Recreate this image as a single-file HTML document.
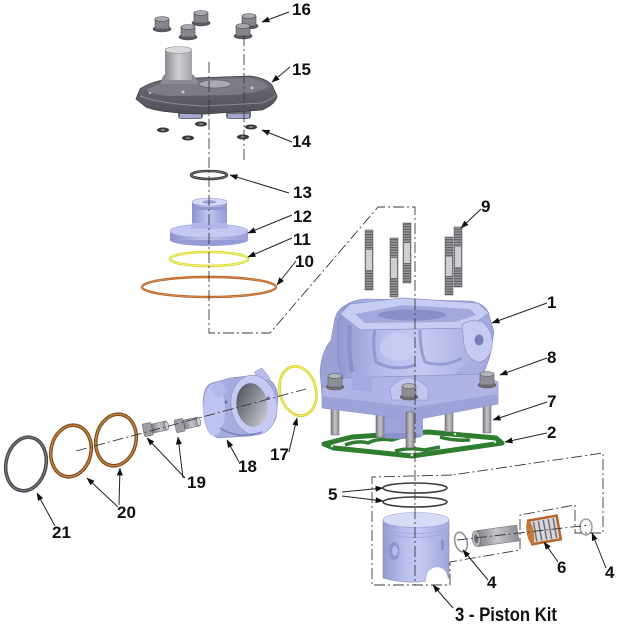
<!DOCTYPE html>
<html><head><meta charset="utf-8">
<style>
html,body{margin:0;padding:0;background:#fff;}
svg{display:block;}
text{font-family:"Liberation Sans",Arial,sans-serif;font-weight:bold;font-size:17px;fill:#111;}
</style></head><body>
<svg width="618" height="624" viewBox="0 0 618 624" xmlns="http://www.w3.org/2000/svg">
<defs>
<marker id="ah" markerWidth="8" markerHeight="6" refX="7.5" refY="3" orient="auto" markerUnits="userSpaceOnUse">
<path d="M0,0 L8,3 L0,6 z" fill="#111"/>
</marker>
<linearGradient id="lav" x1="0" x2="1" y1="0" y2="0">
<stop offset="0" stop-color="#8c92cf"/><stop offset="0.45" stop-color="#c2c6f0"/><stop offset="1" stop-color="#979dd6"/>
</linearGradient>
<linearGradient id="cylg" x1="0" x2="1">
<stop offset="0" stop-color="#9399d2"/><stop offset="0.3" stop-color="#b9bdec"/><stop offset="0.55" stop-color="#c6c9f1"/><stop offset="1" stop-color="#a0a5dc"/>
</linearGradient>
<linearGradient id="head" x1="0" x2="0" y1="0" y2="1">
<stop offset="0" stop-color="#6e6f78"/><stop offset="1" stop-color="#4f5058"/>
</linearGradient>
<linearGradient id="spig" x1="0" x2="1">
<stop offset="0" stop-color="#8a8a90"/><stop offset="0.5" stop-color="#cfcfd3"/><stop offset="1" stop-color="#a4a4aa"/>
</linearGradient>
<linearGradient id="hole" x1="0" x2="1" y1="0" y2="1">
<stop offset="0" stop-color="#44464f"/><stop offset="0.6" stop-color="#9a9ca6"/><stop offset="1" stop-color="#dadbe2"/>
</linearGradient>
<linearGradient id="gray" x1="0" x2="1">
<stop offset="0" stop-color="#7c7c84"/><stop offset="0.5" stop-color="#c4c4ca"/><stop offset="1" stop-color="#8e8e96"/>
</linearGradient>
<pattern id="thr" width="8" height="2.6" patternUnits="userSpaceOnUse">
<rect width="8" height="2.6" fill="#9a9a9e"/><rect width="8" height="1.1" fill="#5c5c60"/>
</pattern>
</defs>

<!-- ===== Head nuts 16 ===== -->
<g stroke="#4a4a50" stroke-width="0.6">
<g transform="translate(162,23)"><ellipse cx="0" cy="6" rx="9" ry="3" fill="#5a5a60"/><rect x="-7" y="-4" width="14" height="10" fill="#85858d"/><ellipse cx="0" cy="-4" rx="7" ry="2.5" fill="#a8a8b0"/></g>
<g transform="translate(201,17)"><ellipse cx="0" cy="6" rx="9" ry="3" fill="#5a5a60"/><rect x="-7" y="-4" width="14" height="10" fill="#85858d"/><ellipse cx="0" cy="-4" rx="7" ry="2.5" fill="#a8a8b0"/></g>
<g transform="translate(188,31)"><ellipse cx="0" cy="6" rx="9" ry="3" fill="#5a5a60"/><rect x="-7" y="-4" width="14" height="10" fill="#85858d"/><ellipse cx="0" cy="-4" rx="7" ry="2.5" fill="#a8a8b0"/></g>
<g transform="translate(249,20)"><ellipse cx="0" cy="6" rx="9" ry="3" fill="#5a5a60"/><rect x="-7" y="-4" width="14" height="10" fill="#85858d"/><ellipse cx="0" cy="-4" rx="7" ry="2.5" fill="#a8a8b0"/></g>
<g transform="translate(243,30)"><ellipse cx="0" cy="6" rx="9" ry="3" fill="#5a5a60"/><rect x="-7" y="-4" width="14" height="10" fill="#85858d"/><ellipse cx="0" cy="-4" rx="7" ry="2.5" fill="#a8a8b0"/></g>
</g>

<!-- ===== Head 15 ===== -->
<g>
<rect x="178" y="106" width="25" height="13" rx="3" fill="#6b6d7c"/>
<rect x="226" y="106" width="25" height="13" rx="3" fill="#6b6d7c"/>
<rect x="180" y="114" width="21" height="4" fill="#a3a7d0"/>
<rect x="228" y="114" width="21" height="4" fill="#a3a7d0"/>
<path d="M136,99 L140,89 Q150,82 168,79 L250,76 Q266,78 272,85 L277,96 Q276,104 262,110 L205,114 Q160,113 146,107 Z" fill="url(#head)" stroke="#3e3f45" stroke-width="0.8"/>
<path d="M146,90 Q160,83 172,81 L250,78 Q263,80 269,87 Q255,94 230,95 L170,96 Q152,95 146,90Z" fill="#7b7c85"/>
<path d="M140,96 Q160,104 205,106 L262,103 Q272,99 276,95" fill="none" stroke="#8a8b94" stroke-width="1"/>
<ellipse cx="215" cy="84" rx="16" ry="4" fill="#a9aab3" stroke="#55565e" stroke-width="0.6"/>
<path d="M160,84 Q163,74 166,74 L191,74 Q195,74 198,84 Z" fill="#8c8c93"/>
<rect x="165" y="50" width="27" height="30" fill="url(#spig)"/>
<ellipse cx="178.5" cy="50" rx="13.5" ry="3.5" fill="#d9d9dc" stroke="#8a8a90" stroke-width="0.6"/>
<circle cx="183" cy="92" r="1.5" fill="#ccc"/><circle cx="252" cy="88" r="1.5" fill="#ccc"/><circle cx="150" cy="93" r="1.2" fill="#bbb"/>
</g>

<!-- ===== Washers 14 ===== -->
<g fill="#36363a">
<ellipse cx="163" cy="130" rx="6" ry="2.5"/><ellipse cx="201" cy="124" rx="6" ry="2.5"/><ellipse cx="188" cy="138" rx="6" ry="2.5"/>
<ellipse cx="251" cy="127" rx="6" ry="2.5"/><ellipse cx="243" cy="137" rx="6" ry="2.5"/>
</g>
<g fill="#8a8a90">
<ellipse cx="163" cy="130" rx="2.5" ry="0.9"/><ellipse cx="201" cy="124" rx="2.5" ry="0.9"/><ellipse cx="188" cy="138" rx="2.5" ry="0.9"/>
<ellipse cx="251" cy="127" rx="2.5" ry="0.9"/><ellipse cx="243" cy="137" rx="2.5" ry="0.9"/>
</g>

<!-- ===== Ring 13 ===== -->
<ellipse cx="209" cy="175" rx="18" ry="4" fill="none" stroke="#333" stroke-width="2.6"/>
<ellipse cx="209" cy="175" rx="18" ry="4" fill="none" stroke="#8a8a8e" stroke-width="0.7"/>

<!-- ===== Part 12 ===== -->
<g>
<ellipse cx="209" cy="240" rx="39" ry="6" fill="#959bd6"/>
<rect x="170" y="231" width="78" height="9" fill="url(#lav)"/>
<ellipse cx="209" cy="231" rx="39" ry="7" fill="#c5c8f1" stroke="#9aa0d6" stroke-width="0.6"/>
<path d="M190,229 Q192,222 194,220 L225,220 Q227,222 229,229 Z" fill="#b2b6e8"/>
<rect x="192" y="202" width="35" height="21" fill="url(#lav)"/>
<rect x="192" y="207" width="35" height="3" fill="#9398d0"/>
<ellipse cx="209.5" cy="202" rx="17.5" ry="4" fill="#d7d9f6" stroke="#9ea3d8" stroke-width="0.6"/>
<ellipse cx="209.5" cy="202" rx="7" ry="1.8" fill="#9da2d6"/>
</g>

<!-- ===== Rings 11, 10 ===== -->
<ellipse cx="209" cy="259" rx="39" ry="7" fill="none" stroke="#d9d932" stroke-width="2.6"/>
<ellipse cx="209" cy="259" rx="39" ry="7" fill="none" stroke="#f4f48a" stroke-width="0.8"/>
<ellipse cx="209" cy="287" rx="67" ry="10" fill="none" stroke="#b9652b" stroke-width="2.4"/>
<ellipse cx="209" cy="287" rx="67" ry="10" fill="none" stroke="#e09a5e" stroke-width="0.6"/>

<!-- ===== Studs 9 ===== -->
<g stroke="#505054" stroke-width="0.5">
<rect x="365" y="230" width="8" height="60" fill="url(#thr)"/><rect x="366" y="250" width="6" height="20" fill="#cfcfd3" stroke="none"/>
<rect x="390" y="238" width="8" height="59" fill="url(#thr)"/><rect x="391" y="258" width="6" height="20" fill="#cfcfd3" stroke="none"/>
<rect x="403" y="223" width="8" height="60" fill="url(#thr)"/><rect x="404" y="243" width="6" height="20" fill="#cfcfd3" stroke="none"/>
<rect x="454" y="227" width="8" height="60" fill="url(#thr)"/><rect x="455" y="247" width="6" height="20" fill="#cfcfd3" stroke="none"/>
<rect x="445" y="237" width="8" height="58" fill="url(#thr)"/><rect x="446" y="257" width="6" height="19" fill="#cfcfd3" stroke="none"/>
</g>

<!-- ===== Gasket 2 ===== -->
<path d="M324,444 L352,437 L428,432 L496,438 L502,443 L412,456 L334,448 Z" fill="none" stroke="#2f7d2f" stroke-width="5" stroke-linejoin="round"/>
<path d="M345,445 Q358,440 368,443 Q376,438 392,440 L402,437 M440,437 Q452,441 470,440 M395,451 Q410,447 425,450 L440,447" fill="none" stroke="#2f7d2f" stroke-width="3.5"/>
<g fill="#cfe3cf"><circle cx="332" cy="446" r="1.3"/><circle cx="412" cy="455" r="1.3"/><circle cx="495" cy="442" r="1.3"/><circle cx="455" cy="434" r="1.3"/></g>

<!-- ===== Cylinder 1 ===== -->
<g>
<!-- lower skirt -->
<rect x="378" y="412" width="45" height="24" fill="#9ea3db"/>
<ellipse cx="400" cy="436" rx="22" ry="3" fill="#8c92cc"/>
<!-- studs 7 under -->
<g stroke="#5a5a60" stroke-width="0.5">
<rect x="331" y="408" width="8" height="27" fill="url(#gray)"/>
<rect x="376" y="412" width="8" height="25" fill="url(#gray)"/>
<rect x="445" y="412" width="8" height="20" fill="url(#gray)"/>
<rect x="483" y="405" width="8" height="28" fill="url(#gray)"/>
</g>
<!-- left bulge -->
<path d="M322,395 L320,372 Q321,352 331,340 L335,318 Q338,308 346,305 L352,385 Z" fill="#9ba0d6" stroke="#7b81bb" stroke-width="0.5"/>
<!-- barrel -->
<path d="M338,322 L346,305 Q352,300 365,299 L470,301 Q484,303 488,312 L494,332 L490,356 L482,378 L345,386 L338,360 Z" fill="url(#cylg)" stroke="#7e84bd" stroke-width="0.6"/>
<!-- barrel shading -->
<path d="M350,325 Q348,350 352,372" fill="none" stroke="#8a90c9" stroke-width="4"/>
<path d="M375,328 Q372,345 376,362 Q395,372 415,365" fill="none" stroke="#9298d0" stroke-width="3"/>
<path d="M420,330 Q420,350 425,362 Q445,368 462,358" fill="none" stroke="#979dd3" stroke-width="3"/>
<ellipse cx="398" cy="347" rx="18" ry="14" fill="#cfd2f4" opacity="0.6"/>
<!-- top face -->
<path d="M340,314 L350,304 L402,298 L478,303 L489,313 L468,328 L360,330 Z" fill="#c9ccf2" stroke="#8a90c8" stroke-width="0.7"/>
<path d="M355,314 L403,305 L470,309 L476,315 L455,322 L365,323 Z" fill="#a3a8dc"/>
<ellipse cx="412" cy="315" rx="34" ry="5.5" fill="#8a90c7"/>
<!-- exhaust ear -->
<path d="M462,325 Q470,318 482,322 Q494,330 492,348 Q488,362 478,362 Q466,358 464,345 Z" fill="#c8cbf1" stroke="#8a90c8" stroke-width="0.6"/>
<ellipse cx="479" cy="340" rx="4.5" ry="5.5" fill="#7a80b6"/>
<path d="M470,362 L482,378 L470,385 L455,372 Z" fill="#a9aee2"/>
<!-- lower body / flange -->
<path d="M322,388 L345,378 L482,374 L498,382 L498,404 L415,420 L322,408 Z" fill="#b1b5e6" stroke="#8186c0" stroke-width="0.6"/>
<path d="M322,396 L415,407 L498,394 L498,404 L415,420 L322,408 Z" fill="#9da2d9"/>
<path d="M390,388 Q408,368 428,388 L428,400 L392,400 Z" fill="#c3c6f0" stroke="#8e94cc" stroke-width="0.6"/>
<path d="M352,372 L372,376 L372,392 L352,390 Z" fill="#a5aae0"/>
<!-- front stud -->
<rect x="406" y="412" width="8" height="36" fill="url(#gray)" stroke="#5a5a60" stroke-width="0.5"/>
<!-- nuts 8 -->
<g stroke="#505056" stroke-width="0.5">
<g transform="translate(335,381)"><ellipse cx="0" cy="6" rx="9" ry="3" fill="#6e6e74"/><rect x="-7" y="-5" width="14" height="11" fill="#8d8d94"/><ellipse cx="0" cy="-5" rx="7" ry="2.5" fill="#b4b4ba"/></g>
<g transform="translate(409,391)"><ellipse cx="0" cy="6" rx="9" ry="3" fill="#6e6e74"/><rect x="-7" y="-5" width="14" height="11" fill="#8d8d94"/><ellipse cx="0" cy="-5" rx="7" ry="2.5" fill="#b4b4ba"/></g>
<g transform="translate(487,379)"><ellipse cx="0" cy="6" rx="9" ry="3" fill="#6e6e74"/><rect x="-7" y="-5" width="14" height="11" fill="#8d8d94"/><ellipse cx="0" cy="-5" rx="7" ry="2.5" fill="#b4b4ba"/></g>
</g>
</g>

<!-- ===== Ring 17 ===== -->
<ellipse cx="298" cy="391" rx="18" ry="25" transform="rotate(-14 298 391)" fill="none" stroke="#dcd535" stroke-width="2.8"/>
<ellipse cx="298" cy="391" rx="18" ry="25" transform="rotate(-14 298 391)" fill="none" stroke="#f5f08a" stroke-width="0.8"/>

<!-- ===== Intake 18 ===== -->
<g>
<path d="M212,383 Q203,386 203,405 Q203,432 218,438 L250,436 Q270,433 276,418 L278,395 Q275,378 258,375 L230,378 Z" fill="#a7acdf" stroke="#7a80b8" stroke-width="0.6"/>
<ellipse cx="214" cy="410" rx="11" ry="26" fill="#bfc3ef"/>
<path d="M254,372 L262,368 L270,378 L262,384 Z" fill="#b9bdec" stroke="#8a90c8" stroke-width="0.5"/>
<path d="M210,388 L220,380 L228,392 L218,398 Z" fill="#b3b7ea"/>
<ellipse cx="254" cy="405" rx="23" ry="30" transform="rotate(-8 254 405)" fill="#c6c9f1" stroke="#8a90c8" stroke-width="0.6"/>
<ellipse cx="252" cy="405" rx="15.5" ry="22" transform="rotate(-8 252 405)" fill="url(#hole)"/>
<path d="M220,428 Q238,440 262,432" fill="none" stroke="#7d83bc" stroke-width="1.5"/>
<circle cx="226" cy="402" r="1.5" fill="#6a70a8"/><circle cx="268" cy="398" r="1.5" fill="#6a70a8"/>
</g>

<!-- ===== Bolts 19 ===== -->
<g stroke="#5c5c62" stroke-width="0.5">
<g transform="translate(155,428) rotate(-12)"><rect x="-12" y="-6.5" width="9" height="13" rx="1.5" fill="#9d9da5"/><rect x="-3" y="-4.5" width="15" height="9" fill="url(#gray)"/><ellipse cx="12" cy="0" rx="1.8" ry="4.5" fill="#cfcfd4"/></g>
<g transform="translate(187,424) rotate(-12)"><rect x="-12" y="-6.5" width="9" height="13" rx="1.5" fill="#9d9da5"/><rect x="-3" y="-4.5" width="15" height="9" fill="url(#gray)"/><ellipse cx="12" cy="0" rx="1.8" ry="4.5" fill="#cfcfd4"/></g>
</g>

<!-- ===== Rings 20, 21 ===== -->
<ellipse cx="26" cy="464" rx="20" ry="27" transform="rotate(12 26 464)" fill="none" stroke="#4a4a50" stroke-width="3.6"/>
<ellipse cx="26" cy="464" rx="20" ry="27" transform="rotate(12 26 464)" fill="none" stroke="#8a8a90" stroke-width="0.8"/>
<ellipse cx="71" cy="451" rx="20" ry="26" transform="rotate(12 71 451)" fill="none" stroke="#7f4d1e" stroke-width="3.6"/>
<ellipse cx="71" cy="451" rx="20" ry="26" transform="rotate(12 71 451)" fill="none" stroke="#c98a4a" stroke-width="1.2"/>
<ellipse cx="116" cy="440" rx="20" ry="26" transform="rotate(12 116 440)" fill="none" stroke="#7f4d1e" stroke-width="3.6"/>
<ellipse cx="116" cy="440" rx="20" ry="26" transform="rotate(12 116 440)" fill="none" stroke="#c98a4a" stroke-width="1.2"/>

<!-- ===== Piston rings 5 ===== -->
<ellipse cx="415" cy="488" rx="32" ry="5" fill="none" stroke="#3c3c40" stroke-width="1.6"/>
<ellipse cx="415" cy="502" rx="32" ry="5" fill="none" stroke="#3c3c40" stroke-width="1.6"/>

<!-- ===== Piston ===== -->
<g>
<path d="M383,520 L383,578 Q400,583 418,582 L449,578 L449,520 Z" fill="url(#cylg)" stroke="#7e84bd" stroke-width="0.6"/>
<ellipse cx="416" cy="520" rx="33" ry="7.5" fill="#d8dbf5" stroke="#9aa0d6" stroke-width="0.6"/>
<path d="M384,529 Q416,538 448,529 M384,533 Q416,542 448,533" fill="none" stroke="#a2a7dc" stroke-width="1"/>
<ellipse cx="394" cy="551" rx="5.5" ry="9" fill="#8e94cc"/>
<ellipse cx="395" cy="551" rx="3" ry="5" fill="#b8bcec"/>
<rect x="441" y="540" width="3" height="10" fill="#8e94cc"/>
<path d="M426,582 Q426,568 437,567 Q448,568 448,582 Z" fill="#fff"/>
</g>

<!-- ===== Circlips, pin, bearing ===== -->
<ellipse cx="461" cy="542" rx="6" ry="10" transform="rotate(-15 461 542)" fill="none" stroke="#8c8c92" stroke-width="1.5"/>
<g transform="rotate(-8 496 536)">
<rect x="476" y="528" width="42" height="16" fill="url(#gray)" stroke="#6a6a70" stroke-width="0.5"/>
<ellipse cx="476" cy="536" rx="4" ry="8" fill="#b6b6bc" stroke="#6a6a70" stroke-width="0.5"/>
<ellipse cx="476" cy="536" rx="2" ry="4.5" fill="#6a6a70"/>
</g>
<g transform="rotate(-10 544 530)">
<rect x="530" y="518" width="29" height="24" fill="#d9d9dc" stroke="#b8642a" stroke-width="2.5"/>
<g stroke="#6e6e74" stroke-width="1.5"><line x1="535" y1="520" x2="535" y2="540"/><line x1="540" y1="520" x2="540" y2="540"/><line x1="545" y1="520" x2="545" y2="540"/><line x1="550" y1="520" x2="550" y2="540"/><line x1="555" y1="520" x2="555" y2="540"/></g>
<ellipse cx="530" cy="530" rx="3.5" ry="12" fill="#c8773a"/>
</g>
<ellipse cx="586" cy="527" rx="6" ry="8" fill="none" stroke="#8c8c92" stroke-width="1.3"/>

<!-- ===== Center / dash-dot lines ===== -->
<g fill="none" stroke="#3a3a3a" stroke-width="0.9" stroke-dasharray="11 3 2 3">
<polyline points="209,62 209,333 270,333 378,207 415,207 415,585"/>
<line x1="244" y1="35" x2="244" y2="162"/>
<polyline points="452,475 372,477 372,585 450,585 450,562 520,550 520,515 575,505 575,533 603,533 603,453 452,475"/>
<line x1="76" y1="451" x2="306" y2="389"/>
<line x1="457" y1="540" x2="590" y2="525"/>
</g>

<!-- ===== Leader arrows ===== -->
<g stroke="#222" stroke-width="1" fill="none" marker-end="url(#ah)">
<line x1="289" y1="12" x2="262" y2="22"/>
<line x1="290" y1="67" x2="272" y2="82"/>
<line x1="292" y1="142" x2="262" y2="130"/>
<line x1="289" y1="193" x2="230" y2="175"/>
<line x1="292" y1="215" x2="248" y2="233"/>
<line x1="292" y1="238" x2="248" y2="257"/>
<line x1="296" y1="261" x2="277" y2="285"/>
<line x1="481" y1="209" x2="461" y2="228"/>
<line x1="547" y1="303" x2="492" y2="323"/>
<line x1="547" y1="358" x2="500" y2="375"/>
<line x1="547" y1="402" x2="493" y2="420"/>
<line x1="547" y1="433" x2="505" y2="442"/>
<line x1="342" y1="492" x2="383" y2="488"/>
<line x1="342" y1="496" x2="383" y2="501"/>
<line x1="488" y1="580" x2="463" y2="550"/>
<line x1="558" y1="562" x2="544" y2="542"/>
<line x1="606" y1="568" x2="592" y2="533"/>
<line x1="453" y1="608" x2="433" y2="585"/>
<line x1="289" y1="452" x2="297" y2="418"/>
<line x1="239" y1="462" x2="227" y2="440"/>
<line x1="185" y1="478" x2="147" y2="438"/>
<line x1="183" y1="478" x2="178" y2="437"/>
<line x1="118" y1="507" x2="87" y2="478"/>
<line x1="119" y1="505" x2="120" y2="468"/>
<line x1="55" y1="526" x2="37" y2="493"/>
</g>

<!-- ===== Labels ===== -->
<text x="292" y="15">16</text>
<text x="292" y="75">15</text>
<text x="292" y="147">14</text>
<text x="293" y="198">13</text>
<text x="293" y="222">12</text>
<text x="293" y="245">11</text>
<text x="295" y="267">10</text>
<text x="481" y="212">9</text>
<text x="547" y="308">1</text>
<text x="547" y="363">8</text>
<text x="547" y="407">7</text>
<text x="547" y="438">2</text>
<text x="328" y="500">5</text>
<text x="487" y="588">4</text>
<text x="557" y="573">6</text>
<text x="605" y="578">4</text>
<text x="455" y="621" textLength="102" lengthAdjust="spacingAndGlyphs" style="font-size:19px">3 - Piston Kit</text>
<text x="270" y="460">17</text>
<text x="238" y="472">18</text>
<text x="187" y="488">19</text>
<text x="117" y="518">20</text>
<text x="52" y="538">21</text>
</svg>
</body></html>
